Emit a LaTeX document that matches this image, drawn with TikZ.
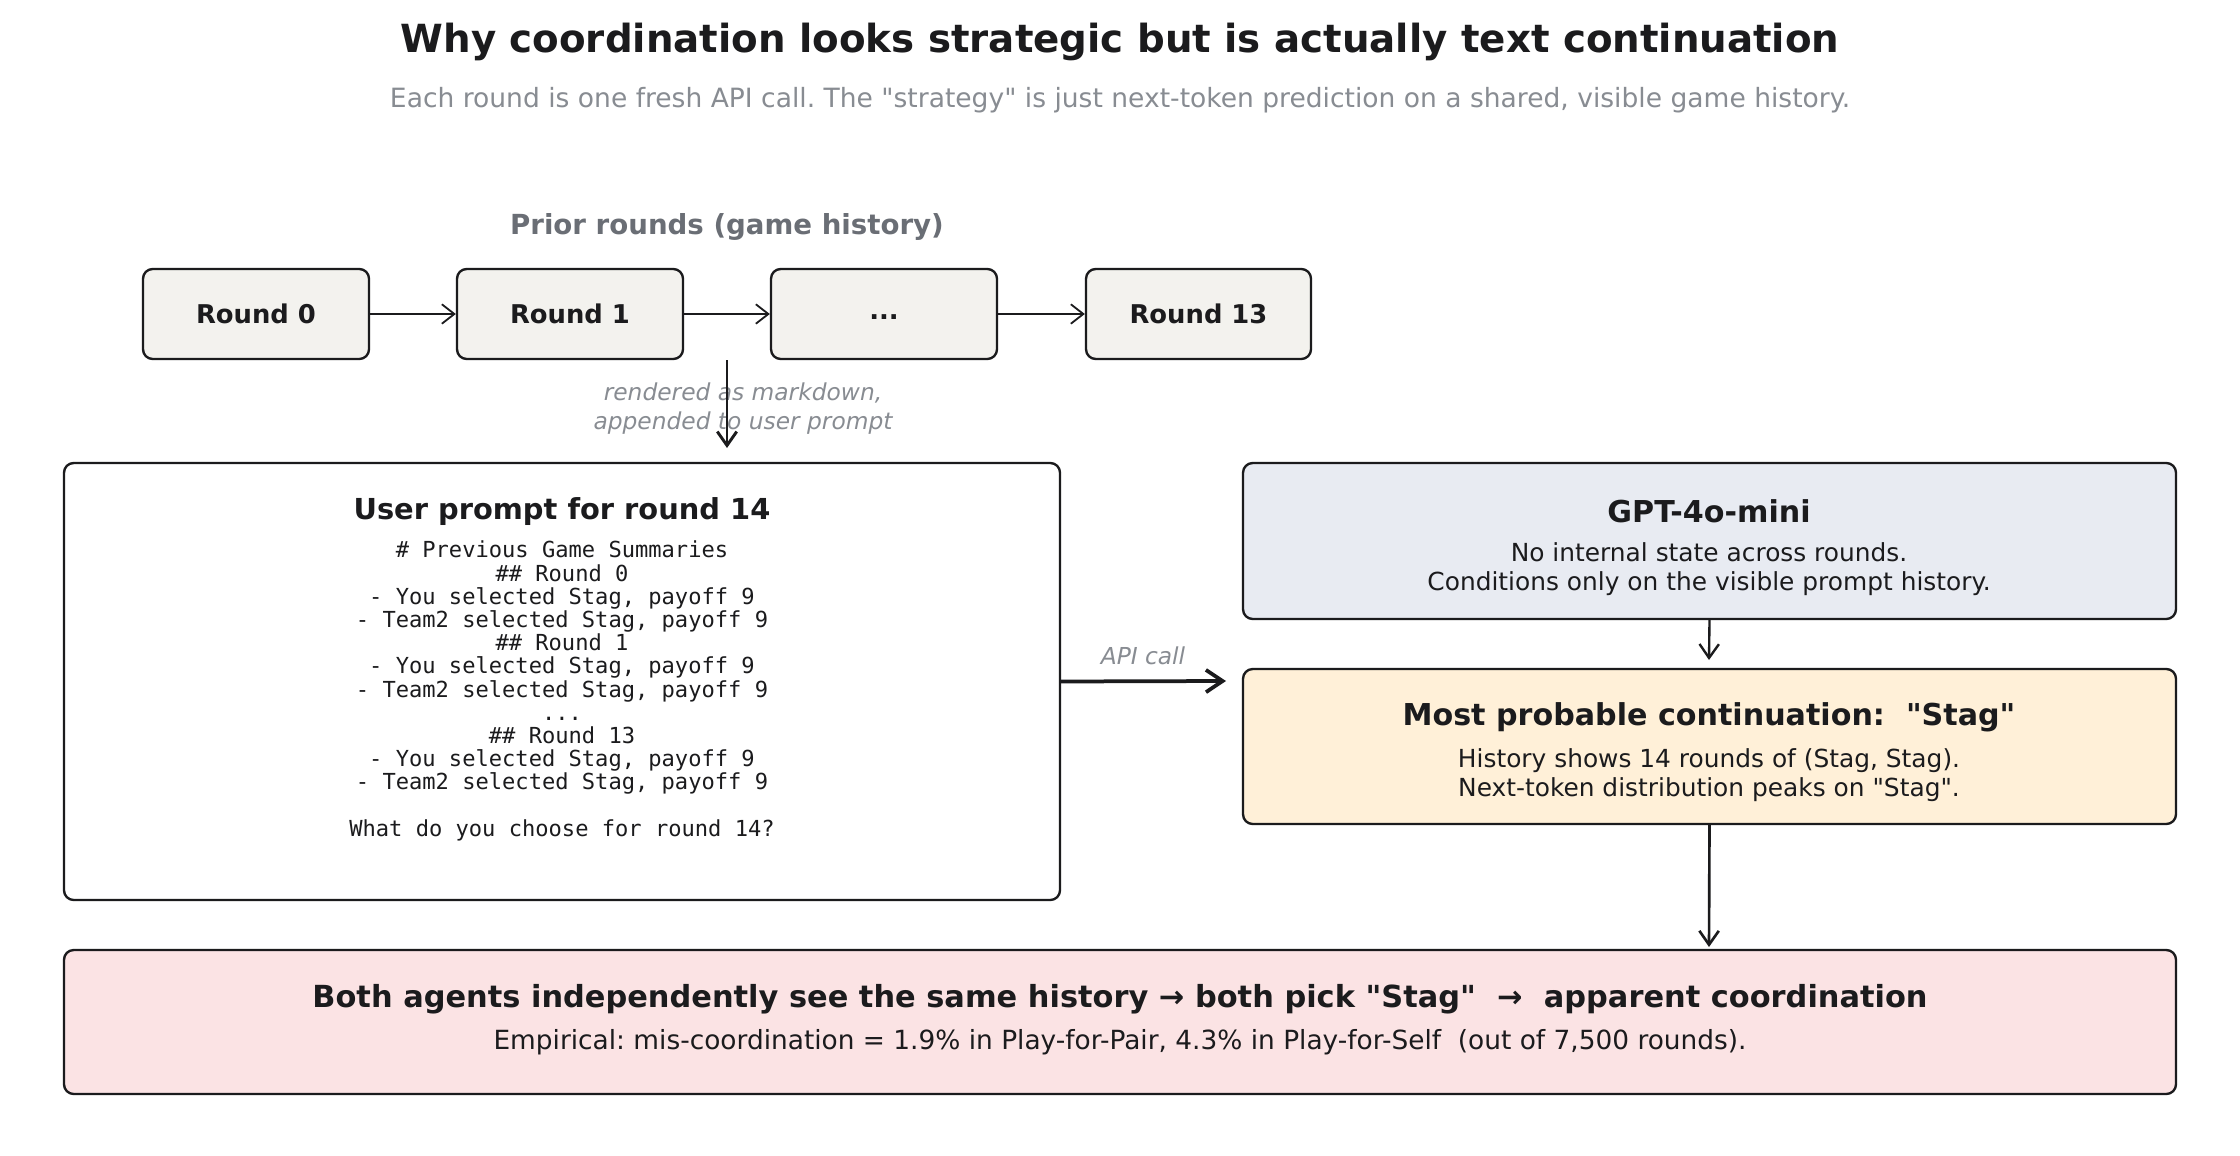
\documentclass[tikz,border=0pt]{standalone}
\usepackage{fontspec}
\setmainfont{DejaVu Sans}[Ligatures=TeXOff]
\setmonofont{DejaVu Sans Mono}
\usetikzlibrary{arrows.meta,fit}
\frenchspacing
\definecolor{ink}{HTML}{1B1B1D}
\definecolor{subgray}{HTML}{888C92}
\definecolor{headgray}{HTML}{6A6E75}
\definecolor{roundfill}{HTML}{F3F2EE}
\definecolor{gptfill}{HTML}{E8EBF2}
\definecolor{stagfill}{HTML}{FFF0D8}
\definecolor{resfill}{HTML}{FBE3E4}
\begin{document}
\begin{tikzpicture}[x=0.72pt,y=-0.72pt,
  box/.style={draw=ink, line width=1.7pt, rounded corners=7pt, inner sep=0pt},
  roundbox/.style={box, fill=roundfill},
  roundlbl/.style={inner sep=0pt, text=ink, font=\fontsize{18.6}{22}\selectfont\bfseries},
  txt/.style={inner sep=0pt, text=ink, align=center},
  smallarrow/.style={draw=ink, line width=1.3pt, -{Straight Barb[length=9pt,width=14pt]}},
  medarrow/.style={draw=ink, line width=1.7pt, -{Straight Barb[length=10pt,width=14pt]}},
  bigarrow/.style={draw=ink, line width=2.7pt, -{Straight Barb[length=12pt,width=16pt]}}
]
\fill[white] (0,0) rectangle (2240,1156);
\path[use as bounding box] (0,0) rectangle (2240,1156);

% title
\node[txt, font=\fontsize{27.9}{33}\selectfont\bfseries] (title) at (1120,41.5)
  {Why coordination looks strategic but is actually text continuation};
\node[txt, text=subgray, font=\fontsize{19.1}{22}\selectfont] (subtitle) at (1120,100)
  {Each round is one fresh API call. The "strategy" is just next-token prediction on a shared, visible game history.};

% prior rounds
\node[txt, text=headgray, font=\fontsize{19.9}{24}\selectfont\bfseries] (prior) at (727,227)
  {Prior rounds (game history)};
\node[roundbox, fit={(143,269) (369,359)}] (r0) {};
\node[roundbox, fit={(457,269) (683,359)}] (r1) {};
\node[roundbox, fit={(771,269) (997,359)}] (rdots) {};
\node[roundbox, fit={(1086,269) (1311,359)}] (r13) {};
\node[roundlbl] (r0l) at (r0.center) {Round 0};
\node[roundlbl] (r1l) at (r1.center) {Round 1};
\node[roundlbl] (rdotsl) at ([yshift=-2pt]rdots.center) {...};
\node[roundlbl] (r13l) at (r13.center) {Round 13};
\draw[smallarrow] (r0) -- (r1);
\draw[smallarrow] (r1) -- (rdots);
\draw[smallarrow] (rdots) -- (r13);

\node[txt, text=subgray, font=\fontsize{16.8}{20.6}\selectfont\itshape] (rlabel) at (743,408.5)
  {rendered as markdown,\\appended to user prompt};
\coordinate (hstart) at (727,360);
\coordinate (hend) at (727,448);
\draw[medarrow, line width=2.1pt] (hstart) -- (hend);

% boxes
\node[box, fill=white, fit={(64,463) (1060,900)}] (prompt) {};
\node[box, fill=gptfill, fit={(1243,463) (2176,619)}] (gpt) {};
\node[box, fill=stagfill, fit={(1243,669) (2176,824)}] (stag) {};
\node[box, fill=resfill, fit={(64,950) (2176,1094)}] (result) {};

% prompt content
\node[txt, font=\fontsize{20.8}{24}\selectfont\bfseries] (ptitle) at (562,511.5)
  {User prompt for round 14};
\node[txt, font=\fontsize{15.9}{16.7}\selectfont\ttfamily] (pbody) at (562,691)
  {\#~Previous Game Summaries\\
   \#\#~Round 0\\
   - You selected Stag, payoff 9\\
   - Team2 selected Stag, payoff 9\\
   \#\#~Round 1\\
   - You selected Stag, payoff 9\\
   - Team2 selected Stag, payoff 9\\
   ...\\
   \#\#~Round 13\\
   - You selected Stag, payoff 9\\
   - Team2 selected Stag, payoff 9\\[16.7pt]
   What do you choose for round 14?};

% API call
\coordinate (apiend) at (1226,681);
\draw[bigarrow] (prompt.east) -- (apiend);
\node[txt, text=subgray, font=\fontsize{16.8}{20}\selectfont\itshape] (apilbl) at (1143,656) {API call};

% gpt content
\node[txt, font=\fontsize{21.7}{25}\selectfont\bfseries] (gtitle) at (1709,511) {GPT-4o-mini};
\node[txt, font=\fontsize{17.9}{20.6}\selectfont] (gbody) at (1709,569)
  {No internal state across rounds.\\Conditions only on the visible prompt history.};

% stag content
\node[txt, font=\fontsize{21.7}{25}\selectfont\bfseries] (stitle) at (1709,717)
  {Most probable continuation:~~"Stag"};
\node[txt, font=\fontsize{17.9}{20.6}\selectfont] (sbody) at (1709,775)
  {History shows 14 rounds of (Stag, Stag).\\Next-token distribution peaks on "Stag".};

\coordinate (gend) at (1709,660);
\draw[medarrow] (gpt.south) -- (gend);
\coordinate (send) at (1709,947);
\draw[medarrow, line width=1.9pt] (stag.south) -- (send);

% result content
\node[txt, font=\fontsize{21.9}{26}\selectfont\bfseries] (btitle) at (1120,999)
  {Both agents independently see the same history → both pick "Stag"~~→~~apparent coordination};
\node[txt, font=\fontsize{19}{22}\selectfont] (bbody) at (1120,1042)
  {Empirical: mis-coordination = 1.9\% in Play-for-Pair, 4.3\% in Play-for-Self~~(out of 7,500 rounds).};
\end{tikzpicture}
\end{document}
